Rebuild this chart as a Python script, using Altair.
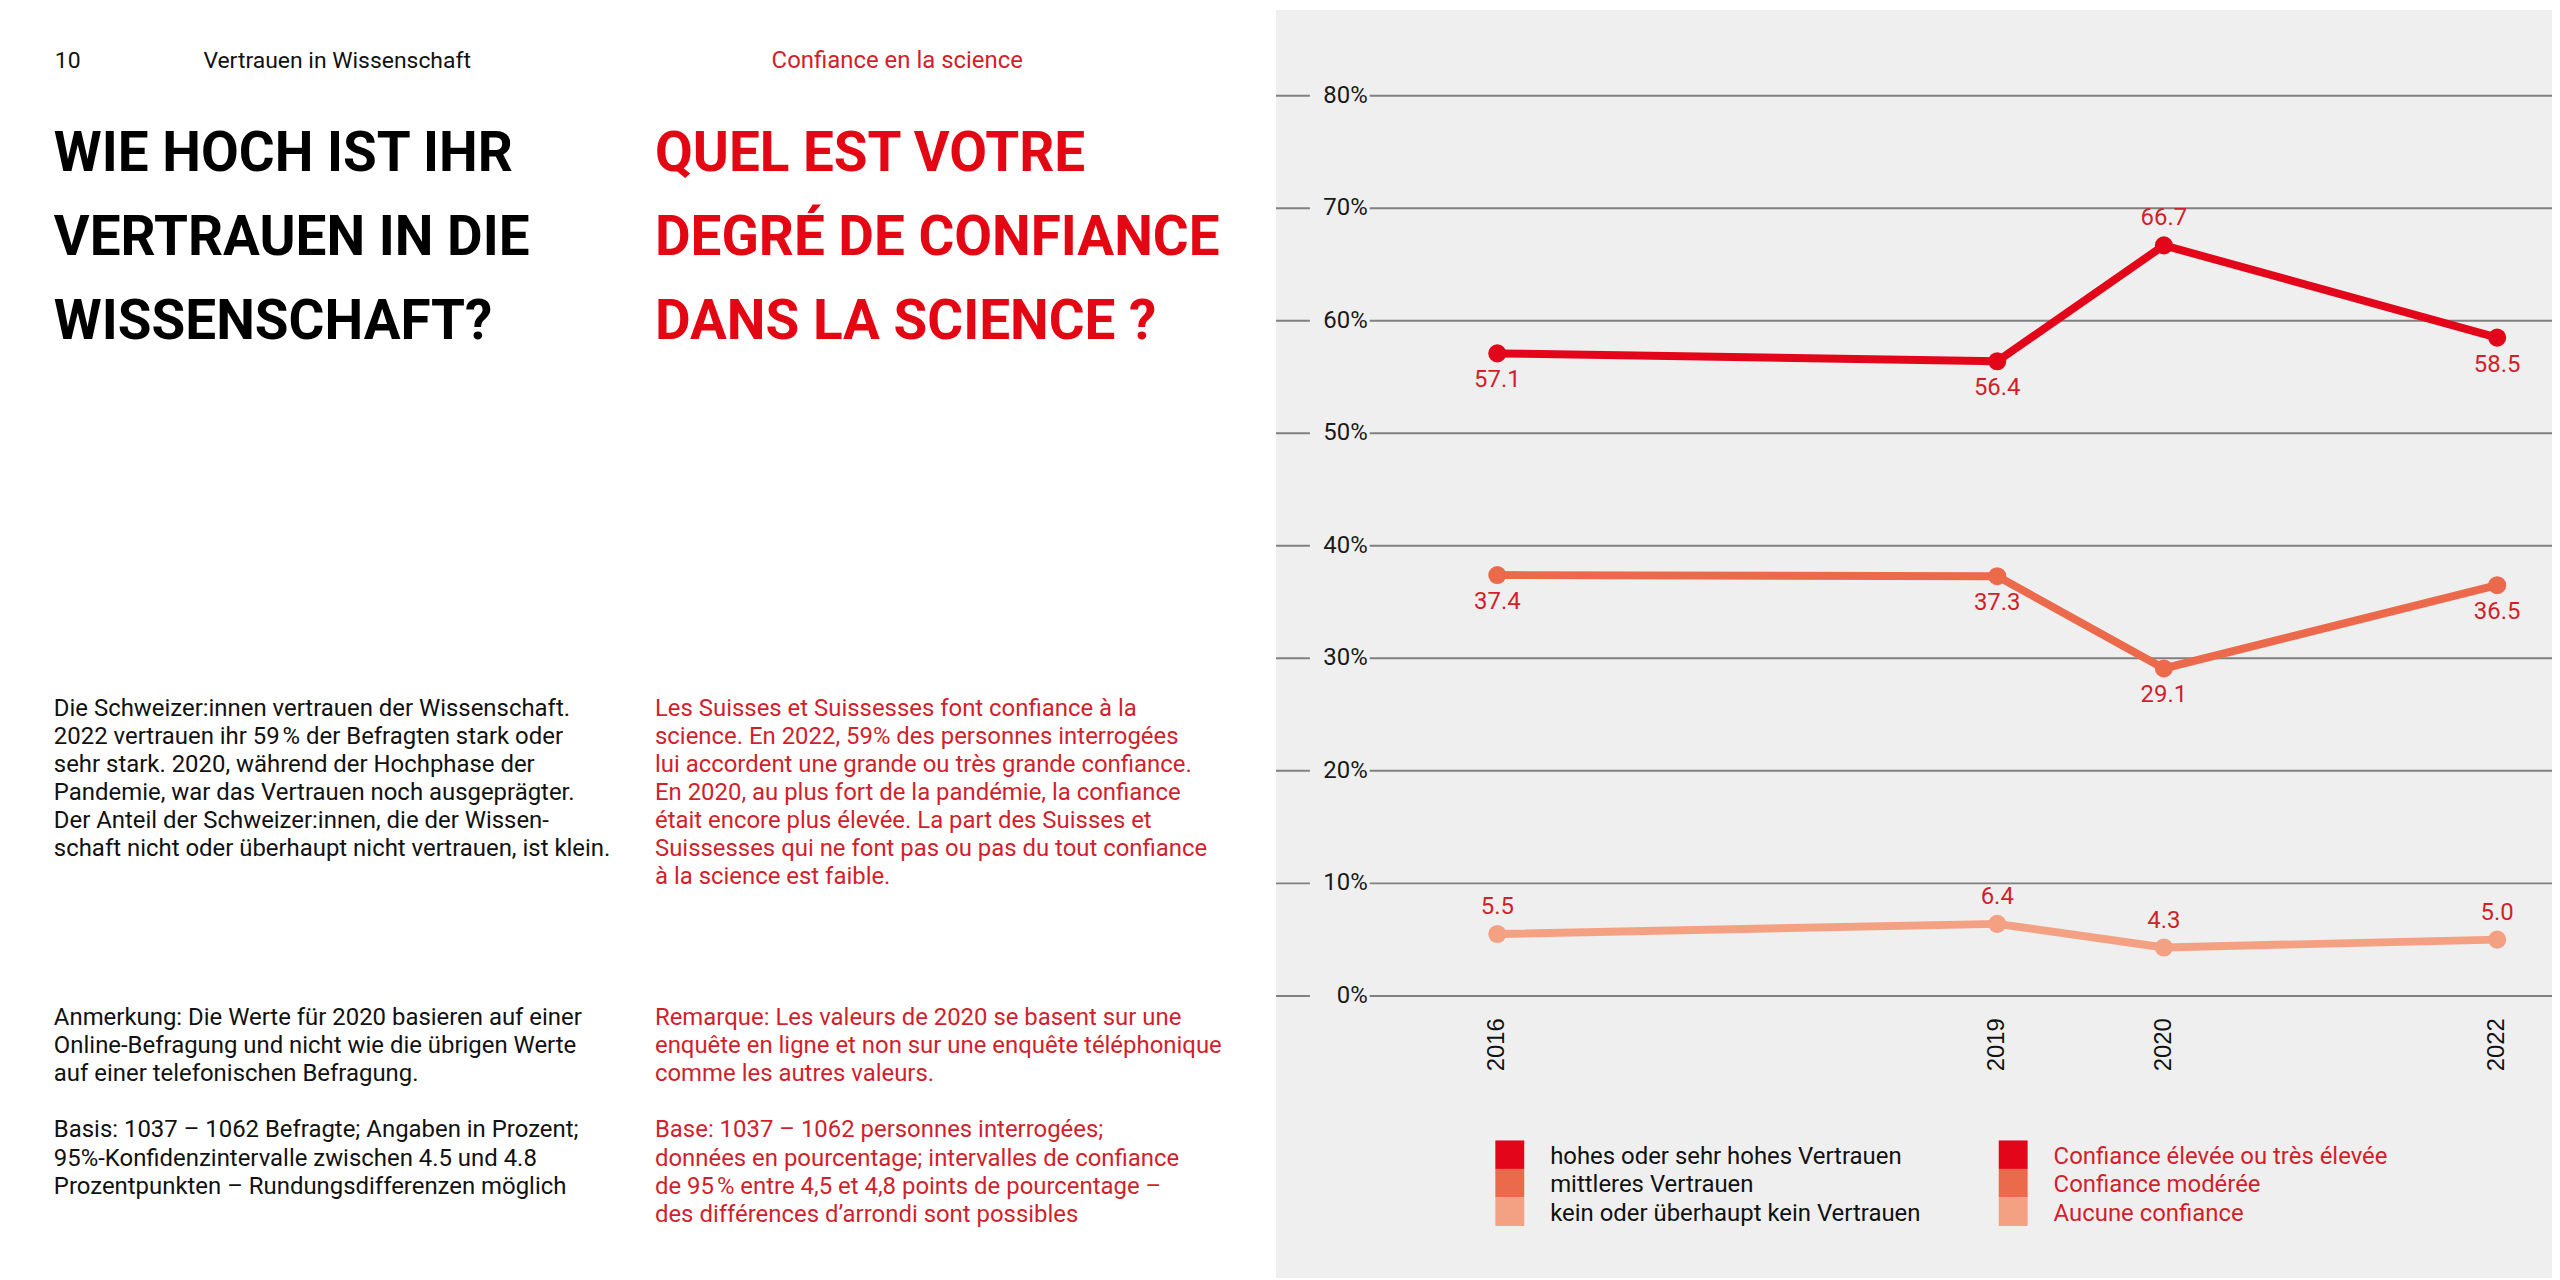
import altair as alt
import pandas as pd

# ---------------- data ----------------
years = [2016, 2019, 2020, 2022]
high_trust = [57.1, 56.4, 66.7, 58.5]
medium_trust = [37.4, 37.3, 29.1, 36.5]
no_trust = [5.5, 6.4, 4.3, 5.0]
series_de = ["hohes oder sehr hohes Vertrauen", "mittleres Vertrauen",
             "kein oder überhaupt kein Vertrauen"]
series_fr = ["Confiance élevée ou très élevée", "Confiance modérée", "Aucune confiance"]
label_above = [[False, False, True, False], [False, False, False, False],
               [True, True, True, True]]
y_ticks = [0, 10, 20, 30, 40, 50, 60, 70, 80]
tick_labels = [f"{t}%" for t in y_ticks]

header_num = "10"
header_de = "Vertrauen in Wissenschaft"
header_fr = "Confiance en la science"
title_de = ["WIE HOCH IST IHR", "VERTRAUEN IN DIE", "WISSENSCHAFT?"]
title_fr = ["QUEL EST VOTRE", "DEGRÉ DE CONFIANCE", "DANS LA SCIENCE ?"]
body_de = [
    "Die Schweizer:innen vertrauen der Wissenschaft.",
    "2022 vertrauen ihr 59\u202f% der Befragten stark oder",
    "sehr stark. 2020, während der Hochphase der",
    "Pandemie, war das Vertrauen noch ausgeprägter.",
    "Der Anteil der Schweizer:innen, die der Wissen-",
    "schaft nicht oder überhaupt nicht vertrauen, ist klein.",
]
body_fr = [
    "Les Suisses et Suissesses font confiance à la",
    "science. En 2022, 59% des personnes interrogées",
    "lui accordent une grande ou très grande confiance.",
    "En 2020, au plus fort de la pandémie, la confiance",
    "était encore plus élevée. La part des Suisses et",
    "Suissesses qui ne font pas ou pas du tout confiance",
    "à la science est faible.",
]
note_de = [
    "Anmerkung: Die Werte für 2020 basieren auf einer",
    "Online-Befragung und nicht wie die übrigen Werte",
    "auf einer telefonischen Befragung.",
]
basis_de = [
    "Basis: 1037 – 1062 Befragte; Angaben in Prozent;",
    "95%-Konfidenzintervalle zwischen 4.5 und 4.8",
    "Prozentpunkten – Rundungsdifferenzen möglich",
]
note_fr = [
    "Remarque: Les valeurs de 2020 se basent sur une",
    "enquête en ligne et non sur une enquête téléphonique",
    "comme les autres valeurs.",
]
basis_fr = [
    "Base: 1037 – 1062 personnes interrogées;",
    "données en pourcentage; intervalles de confiance",
    "de 95\u202f% entre 4,5 et 4,8 points de pourcentage –",
    "des différences d’arrondi sont possibles",
]

# ---------------- styles ----------------
series_colors = ["#e3061b", "#ec6a4c", "#f4a183"]
RED_TEXT = "#d21f2c"
RED_HEAD = "#e30613"
BODY_FONT = "Roboto"
HEAD_FONT = "Roboto"
W, H = 2552, 1272

rows = []
for s, vals, above in zip(series_de, [high_trust, medium_trust, no_trust], label_above):
    for yr, v, a in zip(years, vals, above):
        rows.append({"year": yr, "value": v, "series": s, "label": f"{v:.1f}", "above": a})
df = pd.DataFrame(rows)
ticks_df = pd.DataFrame({"v": y_ticks, "lab": tick_labels})
one = pd.DataFrame({"k": [0]})

X = alt.Scale(domain=[2016, 2022], range=[1494, 2497], nice=False, zero=False)
Y = alt.Scale(domain=[0, 80], range=[989, 86], nice=False, zero=False)
C = alt.Scale(domain=series_de, range=series_colors)

xq = alt.X("year:Q", scale=X, axis=None)
yq = alt.Y("value:Q", scale=Y, axis=None)
yt = alt.Y("v:Q", scale=Y, axis=None)

layers = []
layers.append(alt.Chart(one).mark_rect(color="#efefef").encode(
    x=alt.value(1272), x2=alt.value(W), y=alt.value(0), y2=alt.value(H)))

layers.append(alt.Chart(ticks_df).mark_rule(color="#808080", strokeWidth=2).encode(
    x=alt.value(1272), x2=alt.value(1306), y=yt))
layers.append(alt.Chart(ticks_df).mark_rule(color="#808080", strokeWidth=2).encode(
    x=alt.value(1366), x2=alt.value(W), y=yt))
layers.append(alt.Chart(ticks_df).mark_text(
    align="right", baseline="middle", font=BODY_FONT, fontSize=24, color="#1a1a1a").encode(
    x=alt.value(1364), y=yt, text="lab:N"))

layers.append(alt.Chart(df).mark_line(strokeWidth=8).encode(
    x=xq, y=yq, color=alt.Color("series:N", scale=C, legend=None)))
layers.append(alt.Chart(df).mark_circle(size=330, opacity=1).encode(
    x=xq, y=yq, color=alt.Color("series:N", scale=C, legend=None)))

layers.append(alt.Chart(df).transform_filter("!datum.above").mark_text(
    align="center", baseline="middle", dy=27, font=BODY_FONT, fontSize=24, color=RED_TEXT).encode(
    x=xq, y=yq, text="label:N"))
layers.append(alt.Chart(df).transform_filter("datum.above").mark_text(
    align="center", baseline="middle", dy=-27, font=BODY_FONT, fontSize=24, color=RED_TEXT).encode(
    x=xq, y=yq, text="label:N"))

layers.append(alt.Chart(pd.DataFrame({"year": years})).mark_text(
    angle=270, align="center", baseline="middle", font="Liberation Sans", fontSize=24,
    color="#111111").encode(x=xq, y=alt.value(1038), text="year:N"))

# legend
row_h = 28.6
for i in range(3):
    top = 1134 + row_h * i
    for sx, lab, col in [(1492, series_de[i], "#111111"), (1997, series_fr[i], RED_TEXT)]:
        layers.append(alt.Chart(one).mark_rect(color=series_colors[i]).encode(
            x=alt.value(sx), x2=alt.value(sx + 29), y=alt.value(top), y2=alt.value(top + row_h)))
        layers.append(alt.Chart(one).mark_text(
            align="left", baseline="middle", font=BODY_FONT, fontSize=24, color=col).encode(
            x=alt.value(sx + 55), y=alt.value(top + row_h / 2 + 2), text=alt.value(lab)))


def block(lines, x, y, color, size=24, font=BODY_FONT, lh=28.2, weight="normal"):
    return alt.Chart(one).mark_text(
        align="left", baseline="alphabetic", font=font, fontSize=size, color=color,
        lineHeight=lh, fontWeight=weight).encode(
        x=alt.value(x), y=alt.value(y), text=alt.value(lines))


layers.append(block([header_num], 47, 58, "#111111", size=23))
layers.append(block([header_de], 196, 58, "#111111", size=23))
layers.append(block([header_fr], 766, 58, RED_TEXT, size=24))
layers.append(block(title_de, 46, 162, "#000000", size=55, font=HEAD_FONT, lh=84, weight="bold"))
layers.append(block(title_fr, 649, 162, RED_HEAD, size=55, font=HEAD_FONT, lh=84, weight="bold"))
layers.append(block(body_de, 46, 708, "#111111"))
layers.append(block(body_fr, 649, 708, RED_TEXT))
layers.append(block(note_de, 46, 1018, "#111111"))
layers.append(block(note_fr, 649, 1018, RED_TEXT))
layers.append(block(basis_de, 46, 1131, "#111111"))
layers.append(block(basis_fr, 649, 1131, RED_TEXT))

chart = alt.layer(*layers).properties(
    width=W, height=H, padding=0, autosize="none", background="white"
).configure_view(stroke=None)

chart.save("out.html", embed_options={"renderer": "svg", "actions": False})
